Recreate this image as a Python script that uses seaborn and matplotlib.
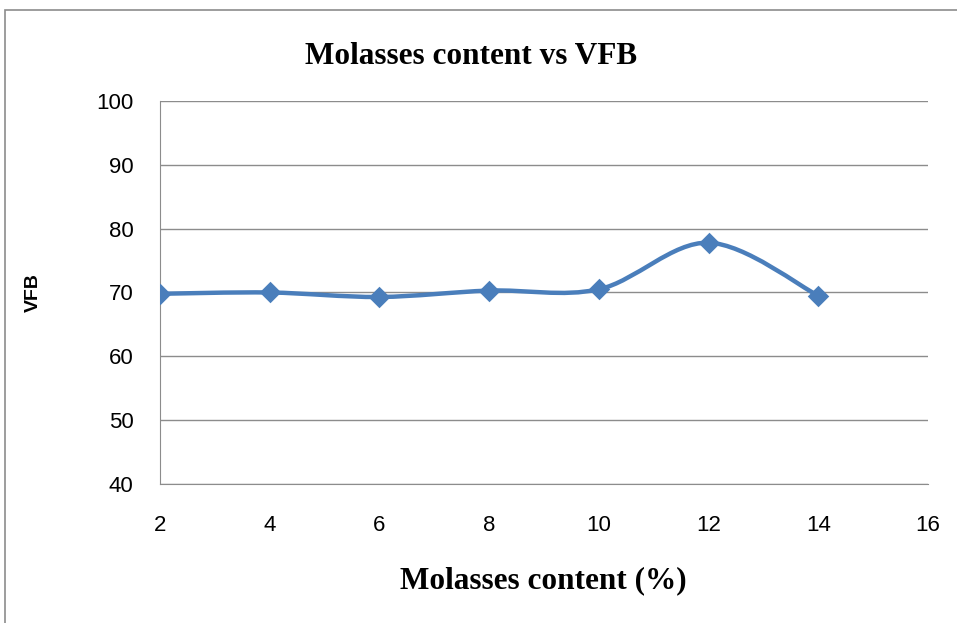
import seaborn as sns
import matplotlib.pyplot as plt
import numpy as np
import pandas as pd
from matplotlib.path import Path
from matplotlib.patches import PathPatch, Rectangle

# Datos
molasses = [2, 4, 6, 8, 10, 12, 14]
vfb = [69.8, 70.0, 69.3, 70.3, 70.5, 77.8, 69.5]
x_ticks = [2, 4, 6, 8, 10, 12, 14, 16]
y_ticks = [40, 50, 60, 70, 80, 90, 100]

df = pd.DataFrame({"molasses": molasses, "vfb": vfb})

sns.set_style("white")
plt.rcParams["font.family"] = ["Liberation Sans", "DejaVu Sans"]
plt.rcParams["text.color"] = "black"

fig = plt.figure(figsize=(9.57, 6.23), dpi=100)
ax = fig.add_axes([160 / 957, 1 - 484 / 623, 768 / 957, 383 / 623])

blue = "#4A7EBB"

# linea suavizada estilo Excel (Catmull-Rom -> Bezier)
pts = df[["molasses", "vfb"]].to_numpy(dtype=float)
verts = [tuple(pts[0])]
codes = [Path.MOVETO]
for i in range(len(pts) - 1):
    p0 = pts[i - 1] if i > 0 else pts[i]
    p1, p2 = pts[i], pts[i + 1]
    p3 = pts[i + 2] if i + 2 < len(pts) else pts[i + 1]
    c1 = p1 + (p2 - p0) / 6
    c2 = p2 - (p3 - p1) / 6
    verts += [tuple(c1), tuple(c2), tuple(p2)]
    codes += [Path.CURVE4] * 3
ax.add_patch(PathPatch(Path(verts, codes), fill=False, edgecolor=blue,
                       lw=3.2, capstyle="round", joinstyle="round", zorder=3))

sns.scatterplot(data=df, x="molasses", y="vfb", marker="D", s=120,
                color=blue, edgecolor=blue, linewidth=0, ax=ax, zorder=4)

ax.set_xlim(2, 16)
ax.set_ylim(40, 100)
ax.set_xticks(x_ticks)
ax.set_yticks(y_ticks)
ax.tick_params(axis="both", length=0, labelsize=16, colors="black")
ax.tick_params(axis="x", pad=22)
ax.tick_params(axis="y", pad=19)
ax.yaxis.grid(True, color="#8C8C8C", lw=1)
ax.xaxis.grid(False)
for s in ["top", "right"]:
    ax.spines[s].set_visible(False)
ax.spines["left"].set_color("#8C8C8C")
ax.spines["bottom"].set_color("#8C8C8C")
ax.set_axisbelow(True)

ax.set_xlabel("")
ax.set_ylabel("")
fig.text(543 / 957, 1 - 581 / 623, "Molasses content (%)", ha="center", va="center",
         family=["Liberation Serif"], weight="bold", fontsize=22.5)
fig.text(33 / 957, 1 - 293 / 623, "VFB", ha="center", va="center", rotation=90,
         weight="bold", fontsize=14)
fig.text(471 / 957, 1 - 57 / 623, "Molasses content vs VFB", ha="center", va="center",
         family=["Liberation Serif"], weight="bold", fontsize=22.5)

# marco del grafico
fig.patches.append(Rectangle((5 / 957, -0.1), 1.2, 1 - 10 / 623 + 0.1,
                             transform=fig.transFigure, fill=False,
                             edgecolor="#8C8C8C", lw=1.2))

fig.savefig("out.png", dpi=100)
